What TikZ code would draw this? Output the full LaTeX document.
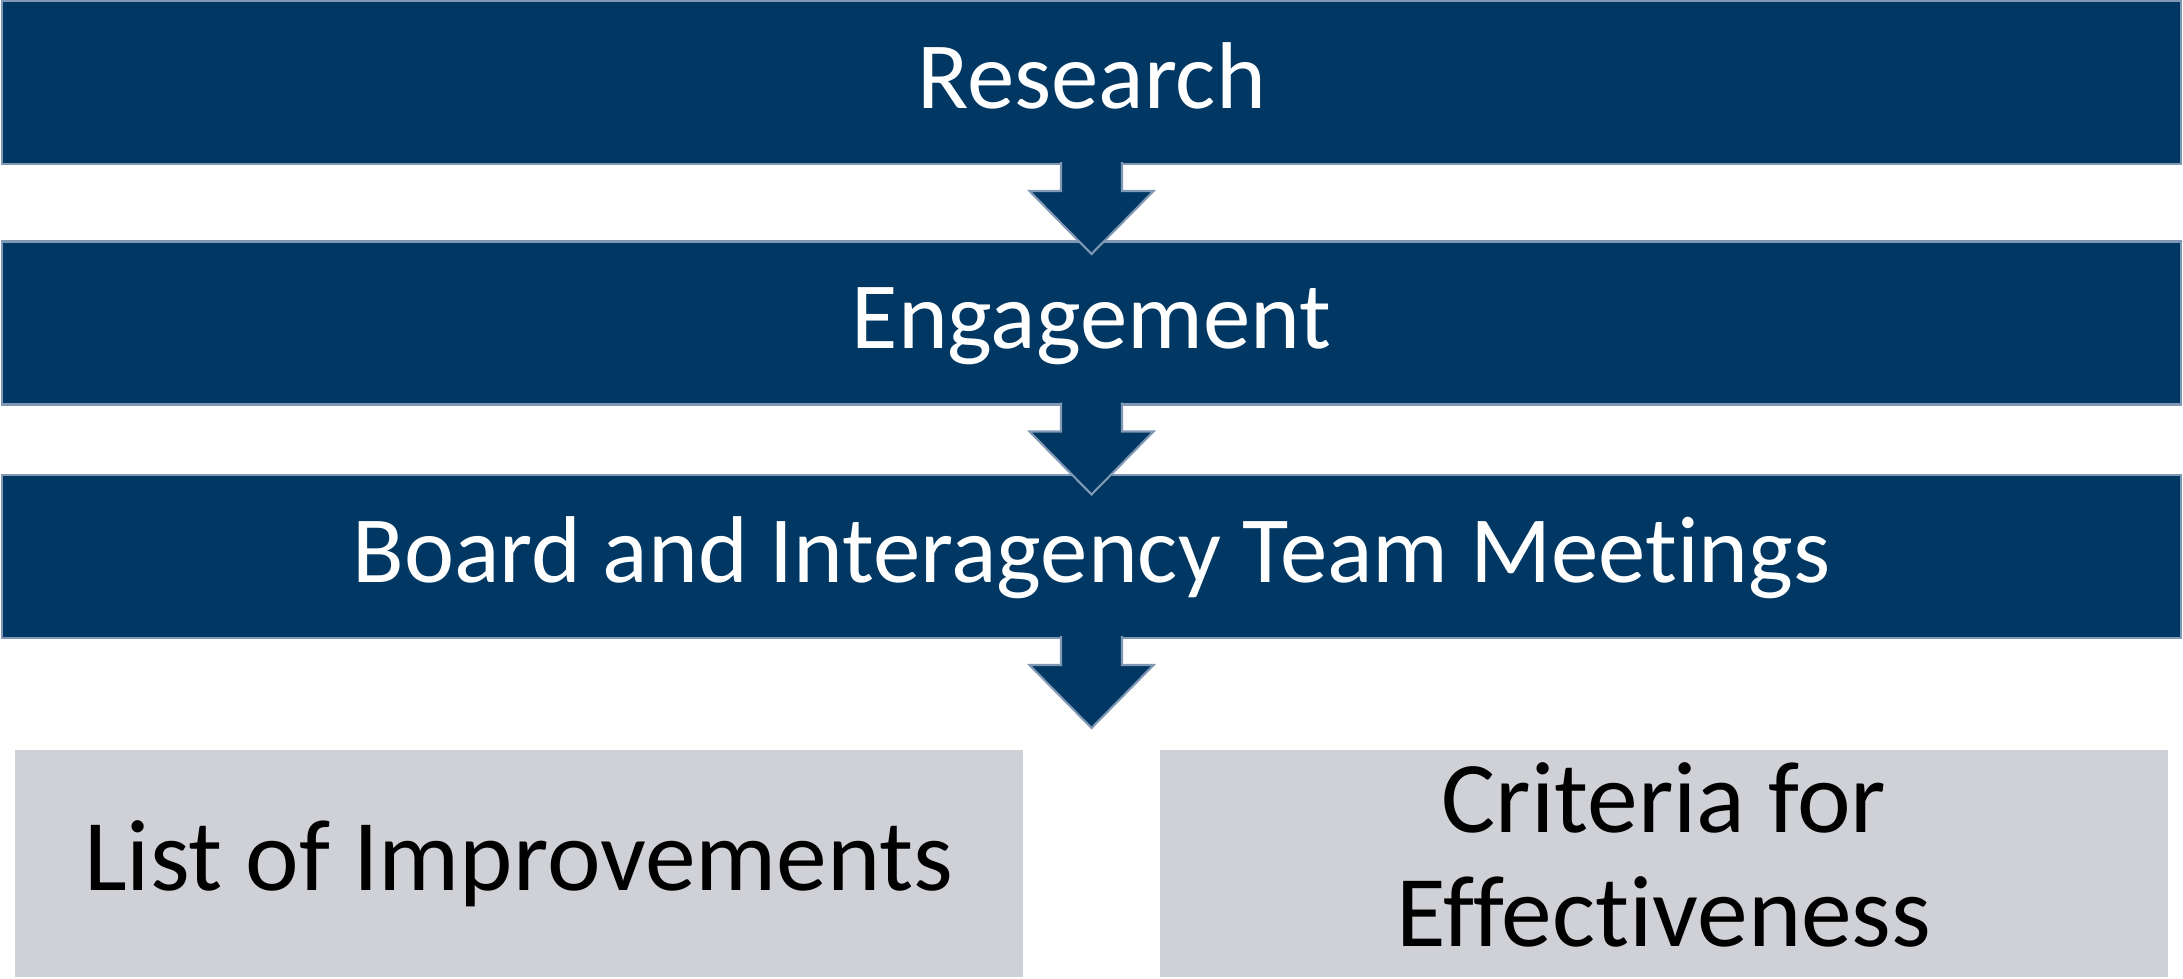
\documentclass[tikz,border=0pt]{standalone}
\usepackage{fontspec}
\setmainfont{Carlito}[Ligatures = NoCommon]

\definecolor{stageblue}{RGB}{0,56,99}
\definecolor{stageedge}{RGB}{128,152,180}
\definecolor{resultgray}{RGB}{208,209,214}

\begin{document}
\begin{tikzpicture}[
    stage/.style = {shape = rectangle, draw = stageedge, fill = stageblue, line width = 0.6pt, minimum width = 21.79cm, minimum height = 1.63cm, inner sep = 0cm, outer sep = 0cm, text = white, font = \fontsize{27}{32}\selectfont, text height = 0.68cm, text depth = 0.17cm},
    result/.style = {shape = rectangle, fill = resultgray, minimum width = 10.08cm, minimum height = 2.27cm, inner sep = 0cm, outer sep = 0cm, align = center, font = \fontsize{28.9}{32.4}\selectfont},
    flow/.style = {draw = stageedge, fill = stageblue, line width = 0.6pt, line join = miter},
    ]
    \useasboundingbox (0, 0) rectangle (21.83, -9.78);

    \node[stage] (research) at (10.915, -0.825) {Research};
    \node[stage] (engage) at (10.915, -3.23) {Engagement};
    \node[stage] (meetings) at (10.915, -5.565) {Board and Interagency Team Meetings};

    \node[result] (improve) at (5.19, -8.635) {List of Improvements};
    \node[result, text height = 0.63cm, text depth = 0.21cm] (criteria) at (16.64, -8.635) {};
    \node[align = center, inner sep = 0cm, font = \fontsize{28.9}{32.4}\selectfont] (criteriatext) at ([yshift = 0.09cm]criteria.center) {Criteria for\\Effectiveness};

    \draw[flow] ([xshift = -0.305cm, yshift = 0.02cm]research.south) -- ++(0, -0.29) -- ++(-0.315, 0) -- ++(0.62, -0.63) -- ++(0.62, 0.63) -- ++(-0.315, 0) -- ++(0, 0.29);
    \draw[flow] ([xshift = -0.305cm, yshift = 0.02cm]engage.south) -- ++(0, -0.29) -- ++(-0.315, 0) -- ++(0.62, -0.63) -- ++(0.62, 0.63) -- ++(-0.315, 0) -- ++(0, 0.29);
    \draw[flow] ([xshift = -0.305cm, yshift = 0.02cm]meetings.south) -- ++(0, -0.29) -- ++(-0.315, 0) -- ++(0.62, -0.63) -- ++(0.62, 0.63) -- ++(-0.315, 0) -- ++(0, 0.29);
\end{tikzpicture}
\end{document}
